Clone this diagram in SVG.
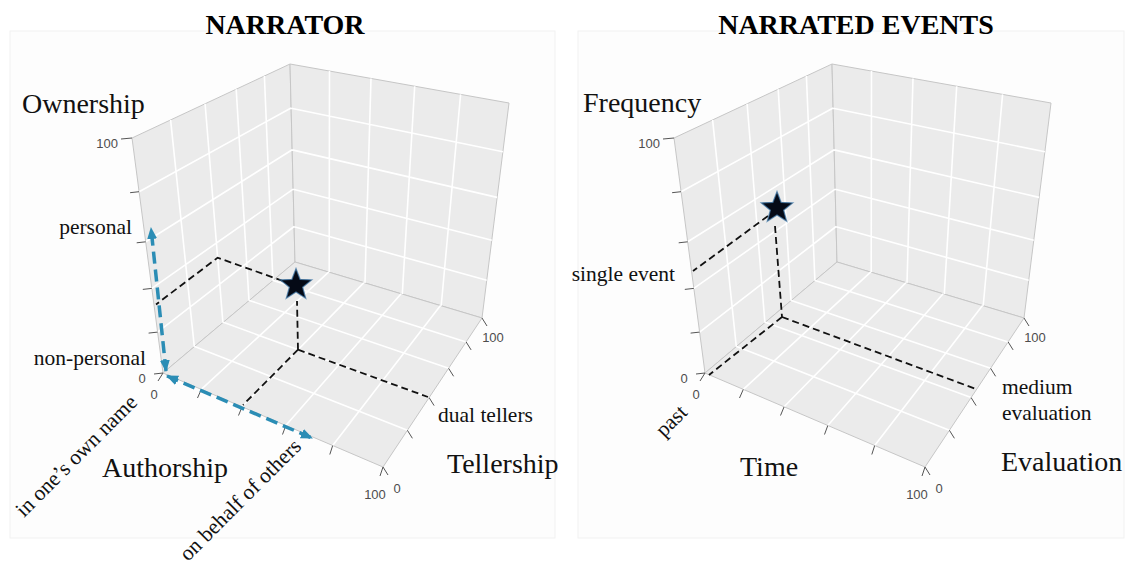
<svg xmlns="http://www.w3.org/2000/svg" xmlns:xlink="http://www.w3.org/1999/xlink" width="1136" height="564" viewBox="0 0 1136 564">
<style>
.bg{fill:#fdfdfd;stroke:#f1f1f1;stroke-width:1}
.face{fill:#ebebeb;stroke:#c6c6c6;stroke-width:1;stroke-linejoin:round}
.grid{fill:none;stroke:#fff;stroke-width:1.6}
.tick{fill:none;stroke:#555;stroke-width:1}
.num{font-family:"Liberation Sans",Arial,sans-serif;font-size:13px;fill:#4d4d4d}
.title{font-family:"Liberation Serif","Times New Roman",serif;font-size:28px;font-weight:bold;fill:#000}
.axis{font-family:"Liberation Serif","Times New Roman",serif;font-size:28px;fill:#111}
.lab{font-family:"Liberation Serif","Times New Roman",serif;font-size:21.5px;fill:#111}
.dash{fill:none;stroke:#111;stroke-width:1.8;stroke-dasharray:7 4}
.blue{fill:none;stroke:#2b8db5;stroke-width:3.5;stroke-dasharray:12 6;marker-start:url(#bh);marker-end:url(#bh)}
.star{fill:#050a16;stroke:#3f78a8;stroke-width:1.3;stroke-opacity:0.7}
</style>
<defs>
<marker id="bh" viewBox="0 0 12 10" refX="11" refY="5" markerWidth="12" markerHeight="10" markerUnits="userSpaceOnUse" orient="auto-start-reverse"><path d="M0,0 L12,5 L0,10 Z" fill="#2b8db5"/></marker>
<path id="starShape" d="M0,-16.5 L4.11,-5.66 L15.69,-5.1 L6.66,2.16 L9.7,13.35 L0,7 L-9.7,13.35 L-6.66,2.16 L-15.69,-5.1 L-4.11,-5.66 Z"/>
</defs>
<rect class="bg" x="10" y="31" width="545" height="507"/>
<rect class="bg" x="578" y="31" width="546" height="507"/>

<g id="narrator-cube">
<polygon class="face" points="163,373 295,262 290,64 132,138"/>
<polygon class="face" points="295,262 482,318 509,103 290,64"/>
<polygon class="face" points="163,373 383,467 482,318 295,262"/>
<path class="grid" d="M194.3,346.6 L170.6,119.9 M222.9,322.6 L205.1,103.8 M249,300.7 L236.2,89.2 M272.9,280.6 L264.4,76 M157.6,332.1 L294.1,226.5 M151.8,288.4 L293.2,189.1 M145.7,241.8 L292.2,149.7 M139.1,191.7 L291.1,108 M329.2,272.2 L329.5,71 M365,283 L371,78.4 M402.3,294.1 L414.7,86.2 M441.2,305.8 L460.6,94.4 M294.1,226.7 L486.7,280.3 M293.2,189.3 L491.8,240.2 M292.2,149.9 L497.1,197.4 M291.1,108.2 L502.9,151.8 M201.3,389.4 L328.6,272.1 M242.1,406.8 L363.9,282.6 M285.8,425.5 L401.1,293.8 M332.7,445.5 L440.5,305.6 M194.6,346.4 L407.4,430.3 M223.3,322.3 L429.1,397.6 M249.3,300.4 L448.6,368.3 M273.1,280.4 L466.1,341.9"/>
<path class="tick" d="M163,373 L154,374 M157.6,332.1 L148.6,333.1 M151.8,288.4 L142.8,289.4 M145.7,241.8 L136.7,242.8 M139.1,191.7 L130.1,192.7 M132,138 L121,139 M163,373 L158,381 M201.3,389.4 L197.5,398 M242.1,406.8 L238.5,415.5 M285.8,425.5 L282.5,434.5 M332.7,445.5 L329.8,454.5 M383,467 L380,476 M383,467 L388,475 M407.4,430.3 L412.4,438.3 M429.1,397.6 L434.1,405.6 M448.6,368.3 L453.6,376.3 M466.1,341.9 L471.1,349.9 M482,318 L487,326"/>
<text class="num" x="118" y="147.5" text-anchor="end">100</text>
<text class="num" x="142" y="383" text-anchor="middle">0</text>
<text class="num" x="154" y="399" text-anchor="middle">0</text>
<text class="num" x="375" y="499" text-anchor="middle">100</text>
<text class="num" x="397" y="493" text-anchor="middle">0</text>
<text class="num" x="493" y="342" text-anchor="middle">100</text>
</g>

<g id="events-cube" transform="translate(542,0)">
<polygon class="face" points="163,373 295,262 290,64 132,138"/>
<polygon class="face" points="295,262 482,318 509,103 290,64"/>
<polygon class="face" points="163,373 383,467 482,318 295,262"/>
<path class="grid" d="M194.3,346.6 L170.6,119.9 M222.9,322.6 L205.1,103.8 M249,300.7 L236.2,89.2 M272.9,280.6 L264.4,76 M157.6,332.1 L294.1,226.5 M151.8,288.4 L293.2,189.1 M145.7,241.8 L292.2,149.7 M139.1,191.7 L291.1,108 M329.2,272.2 L329.5,71 M365,283 L371,78.4 M402.3,294.1 L414.7,86.2 M441.2,305.8 L460.6,94.4 M294.1,226.7 L486.7,280.3 M293.2,189.3 L491.8,240.2 M292.2,149.9 L497.1,197.4 M291.1,108.2 L502.9,151.8 M201.3,389.4 L328.6,272.1 M242.1,406.8 L363.9,282.6 M285.8,425.5 L401.1,293.8 M332.7,445.5 L440.5,305.6 M194.6,346.4 L407.4,430.3 M223.3,322.3 L429.1,397.6 M249.3,300.4 L448.6,368.3 M273.1,280.4 L466.1,341.9"/>
<path class="tick" d="M163,373 L154,374 M157.6,332.1 L148.6,333.1 M151.8,288.4 L142.8,289.4 M145.7,241.8 L136.7,242.8 M139.1,191.7 L130.1,192.7 M132,138 L121,139 M163,373 L158,381 M201.3,389.4 L197.5,398 M242.1,406.8 L238.5,415.5 M285.8,425.5 L282.5,434.5 M332.7,445.5 L329.8,454.5 M383,467 L380,476 M383,467 L388,475 M407.4,430.3 L412.4,438.3 M429.1,397.6 L434.1,405.6 M448.6,368.3 L453.6,376.3 M466.1,341.9 L471.1,349.9 M482,318 L487,326"/>
<text class="num" x="118" y="147.5" text-anchor="end">100</text>
<text class="num" x="142" y="383" text-anchor="middle">0</text>
<text class="num" x="154" y="399" text-anchor="middle">0</text>
<text class="num" x="375" y="499" text-anchor="middle">100</text>
<text class="num" x="397" y="493" text-anchor="middle">0</text>
<text class="num" x="493" y="342" text-anchor="middle">100</text>
</g>

<g id="connectors">
<path class="dash" d="M298,349.7 L297,301 M298,349.7 L243,405 M298,349.7 L428,397 M283,281 L217.6,257.7 L156,304.5"/>
<path class="blue" d="M166,371 L151,228"/>
<path class="blue" d="M167,376 L312,438"/>
<path class="dash" d="M768,216 L693,271 M775,226 L782,317 M782,317 L709,375 M782,317 L976,389"/>
</g>

<g id="star-narrator"><use xlink:href="#starShape" class="star" x="296" y="285"/></g>
<g id="star-events"><use xlink:href="#starShape" class="star" x="777" y="208"/></g>

<g id="labels-narrator">
<text class="title" x="285" y="34" text-anchor="middle">NARRATOR</text>
<text class="axis" x="22" y="113">Ownership</text>
<text class="lab" x="132" y="234" text-anchor="end">personal</text>
<text class="lab" x="146" y="365" text-anchor="end">non-personal</text>
<text class="axis" x="102" y="477">Authorship</text>
<text class="axis" x="447" y="473">Tellership</text>
<text class="lab" x="438" y="422">dual tellers</text>
<text class="lab" transform="translate(24,518) rotate(-45)">in one’s own name</text>
<text class="lab" transform="translate(188,562) rotate(-45)">on behalf of others</text>
</g>

<g id="labels-events">
<text class="title" x="856" y="34" text-anchor="middle">NARRATED EVENTS</text>
<text class="axis" x="583" y="112">Frequency</text>
<text class="lab" x="675" y="281" text-anchor="end">single event</text>
<text class="axis" x="740" y="476">Time</text>
<text class="axis" x="1001" y="471">Evaluation</text>
<text class="lab" x="1002" y="394">medium</text>
<text class="lab" x="1002" y="420">evaluation</text>
<text class="lab" transform="translate(664,438) rotate(-45)">past</text>
</g>
</svg>
